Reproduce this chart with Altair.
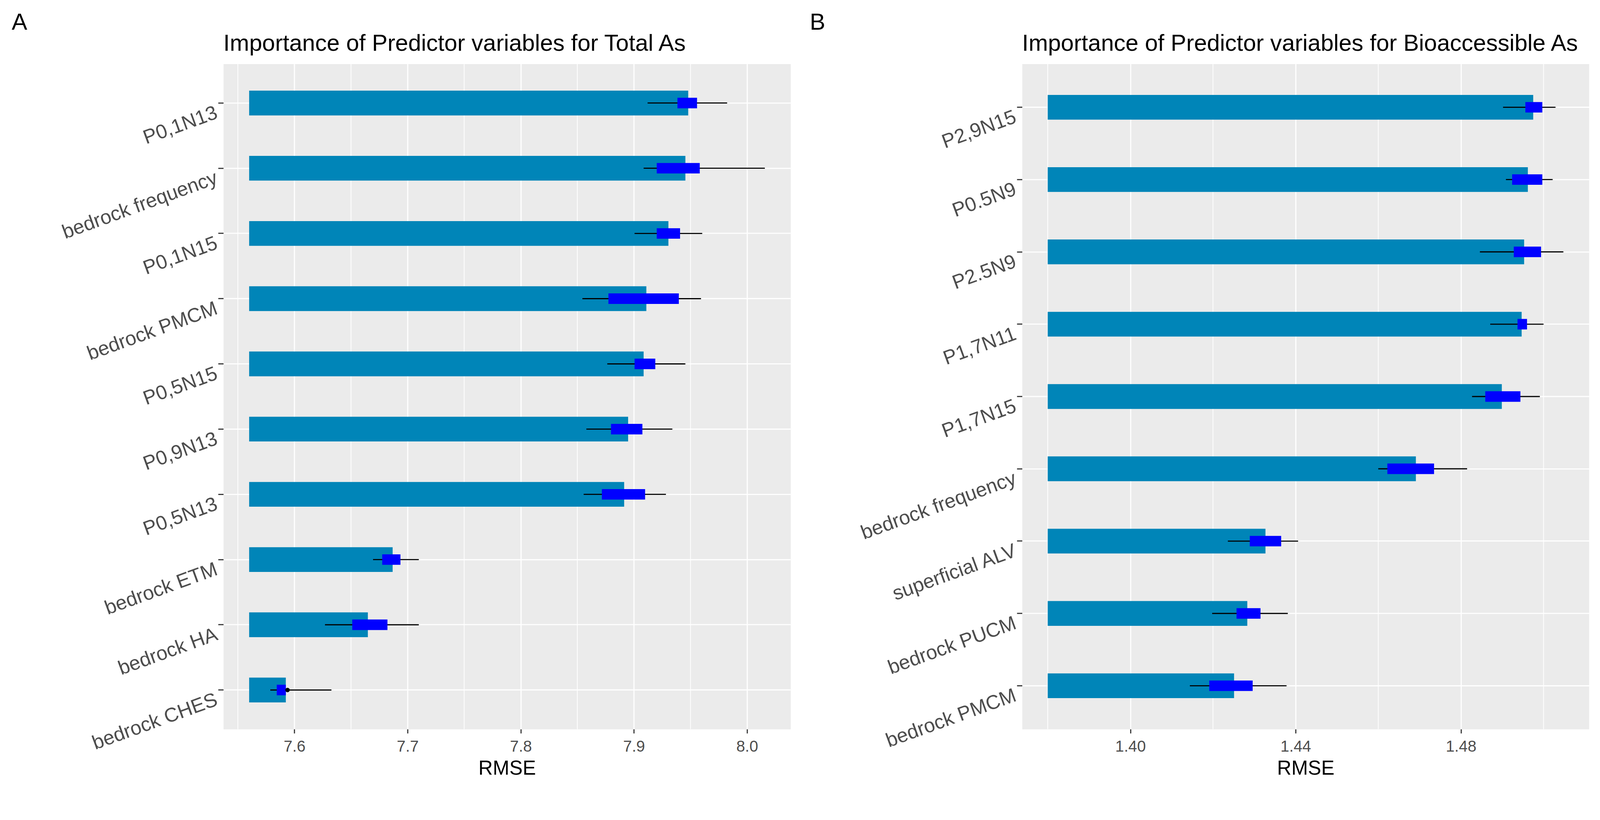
import altair as alt
import pandas as pd

FONT = "Liberation Sans"
BAR_COLOR = "#0085B8"
BOX_COLOR = "#0000FF"

# ---------------- Panel A: Total As ----------------
total_letter = "A"
total_title = "Importance of Predictor variables for Total As"
total_vars = ["P0,1N13", "bedrock frequency", "P0,1N15", "bedrock PMCM", "P0,5N15",
              "P0,9N13", "P0,5N13", "bedrock ETM", "bedrock HA", "bedrock CHES"]
total_rmse = [7.948, 7.9455, 7.9305, 7.911, 7.9086, 7.8949, 7.8914, 7.6868, 7.6649, 7.5924]
total_box_lo = [7.9385, 7.9202, 7.9202, 7.8775, 7.9006, 7.8798, 7.8717, 7.6776, 7.6511, 7.5844]
total_box_hi = [7.9558, 7.9582, 7.9408, 7.9397, 7.9189, 7.9075, 7.9099, 7.6937, 7.6822, 7.5924]
total_lo = [7.9121, 7.9086, 7.9006, 7.8545, 7.8765, 7.8580, 7.8556, 7.6695, 7.6270, 7.5787]
total_hi = [7.9824, 8.0157, 7.9604, 7.9593, 7.9455, 7.9340, 7.9283, 7.7099, 7.7099, 7.6327]
total_base = 7.56
total_point_var = ["bedrock CHES"]
total_point_val = [7.5939]
total_domain = [7.5372, 8.0385]
total_ticks = [7.6, 7.7, 7.8, 7.9, 8.0]
total_minor = [7.55, 7.65, 7.75, 7.85, 7.95]

# ---------------- Panel B: Bioaccessible As ----------------
bio_letter = "B"
bio_title = "Importance of Predictor variables for Bioaccessible As"
bio_vars = ["P2,9N15", "P0.5N9", "P2.5N9", "P1,7N11", "P1,7N15",
            "bedrock frequency", "superficial ALV", "bedrock PUCM", "bedrock PMCM"]
bio_rmse = [1.4975, 1.4962, 1.4953, 1.4947, 1.4899, 1.4691, 1.4327, 1.4283, 1.4251]
bio_box_lo = [1.4956, 1.4924, 1.4928, 1.4937, 1.4859, 1.4622, 1.4289, 1.4257, 1.4191]
bio_box_hi = [1.4997, 1.4997, 1.4994, 1.4960, 1.4944, 1.4735, 1.4365, 1.4315, 1.4296]
bio_lo = [1.4902, 1.4909, 1.4846, 1.4871, 1.4827, 1.4600, 1.4236, 1.4198, 1.4144]
bio_hi = [1.5029, 1.5022, 1.5048, 1.5000, 1.4991, 1.4815, 1.4406, 1.4381, 1.4378]
bio_base = 1.38
bio_domain = [1.3738, 1.5110]
bio_ticks = [1.40, 1.44, 1.48]
bio_minor = [1.38, 1.42, 1.46, 1.50]


def panel(vars_, rmse, blo, bhi, lo, hi, base, domain, ticks, minor, fmt,
          letter, title, width, height, letter_x, pt_var=None, pt_val=None):
    df = pd.DataFrame({"var": vars_, "rmse": rmse, "base": [base] * len(vars_),
                       "blo": blo, "bhi": bhi, "lo": lo, "hi": hi})
    xscale = alt.Scale(domain=domain, nice=False, zero=False)
    xaxis = alt.Axis(values=ticks, format=fmt, labelFontSize=42, labelColor="#4D4D4D",
                     tickSize=11, tickWidth=3, tickColor="#333333", labelPadding=15,
                     titleFontSize=53, titleColor="black", titleFontWeight="normal",
                     titlePadding=12, domain=False, grid=True, gridColor="white",
                     gridWidth=3, labelFlush=False)
    yscale = alt.Scale(paddingInner=0, paddingOuter=0.1)
    yaxis = alt.Axis(labelFontSize=53, labelColor="#4D4D4D", labelAngle=340,
                     labelAlign="right", labelBaseline="top", tickSize=14, tickWidth=3,
                     tickColor="#333333", labelPadding=13, bandPosition=0.5, grid=True,
                     gridColor="white", gridWidth=3, domain=False, labelLimit=1000,
                     labelOverlap=False)
    yenc = alt.Y("var:N", sort=vars_, scale=yscale, axis=yaxis, title=None)

    minor_df = pd.DataFrame({"rmse": minor})
    minor_layer = alt.Chart(minor_df).mark_rule(color="white", strokeWidth=2).encode(
        x=alt.X("rmse:Q", scale=xscale, axis=xaxis, title="RMSE"))

    bars = alt.Chart(df).mark_bar(size=66, color=BAR_COLOR).encode(
        y=yenc, x=alt.X("base:Q", scale=xscale, axis=xaxis, title="RMSE"), x2="rmse:Q")
    errs = alt.Chart(df).mark_rule(color="black", strokeWidth=3).encode(
        y=yenc, x=alt.X("lo:Q", scale=xscale, axis=xaxis, title="RMSE"), x2="hi:Q")
    boxes = alt.Chart(df).mark_bar(size=28, color=BOX_COLOR).encode(
        y=yenc, x=alt.X("blo:Q", scale=xscale, axis=xaxis, title="RMSE"), x2="bhi:Q")

    layers = [minor_layer, bars, errs, boxes]
    if pt_var:
        pdf = pd.DataFrame({"var": pt_var, "rmse": pt_val})
        layers.append(alt.Chart(pdf).mark_point(filled=True, color="black", size=140,
                                                 opacity=1).encode(
            y=yenc, x=alt.X("rmse:Q", scale=xscale, axis=xaxis, title="RMSE")))

    letter_layer = alt.Chart(pd.DataFrame({"t": [letter]})).mark_text(
        align="left", baseline="alphabetic", fontSize=62, font=FONT, color="black").encode(
        text="t:N", x=alt.value(letter_x), y=alt.value(-91))
    title_layer = alt.Chart(pd.DataFrame({"t": [title]})).mark_text(
        align="left", baseline="alphabetic", fontSize=62, font=FONT, color="black").encode(
        text="t:N", x=alt.value(0), y=alt.value(-35))
    layers += [letter_layer, title_layer]
    return alt.layer(*layers).properties(width=width, height=height)


left = panel(total_vars, total_rmse, total_box_lo, total_box_hi, total_lo, total_hi,
             total_base, total_domain, total_ticks, total_minor, ".1f",
             total_letter, total_title, 1512, 1773, -564,
             total_point_var, total_point_val)
right = panel(bio_vars, bio_rmse, bio_box_lo, bio_box_hi, bio_lo, bio_hi,
              bio_base, bio_domain, bio_ticks, bio_minor, ".2f",
              bio_letter, bio_title, 1511, 1773, -566)

chart = alt.hconcat(left, right, spacing=617, bounds="flush").properties(
    padding={"left": 22, "top": -22, "right": 20, "bottom": 10}
).configure(font=FONT).configure_view(fill="#EBEBEB", stroke="transparent")

chart.save("out.html", embed_options={"renderer": "svg", "actions": False})
